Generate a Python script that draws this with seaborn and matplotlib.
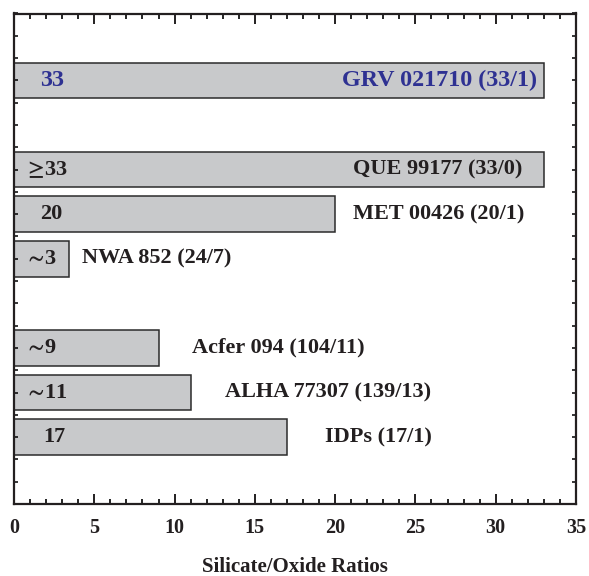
import numpy as np
import pandas as pd
import matplotlib
matplotlib.use("Agg")
import matplotlib.pyplot as plt
import seaborn as sns

# ---- data ----
samples = ["GRV 021710", "QUE 99177", "MET 00426", "NWA 852",
           "Acfer 094", "ALHA 77307", "IDPs"]
ratios = [33.0, 33.0, 20.0, 3.43, 9.05, 11.0, 17.0]
value_labels = ["33", r"${\geq}\!$33", "20", r"${\sim}\!$3", r"${\sim}\!$9",
                r"${\sim}\!$11", "17"]
name_labels = ["GRV 021710 (33/1)", "QUE 99177 (33/0)", "MET 00426 (20/1)",
               "NWA 852 (24/7)", "Acfer 094 (104/11)", "ALHA 77307 (139/13)",
               "IDPs (17/1)"]
# category slots (blank slots make the gaps between groups)
slot_order = ["_gap0", "GRV 021710", "_gap1", "QUE 99177", "MET 00426", "NWA 852",
              "_gap2", "Acfer 094", "ALHA 77307", "IDPs", "_gap3"]
x_ticks_major = [0, 5, 10, 15, 20, 25, 30, 35]

# ---- layout / style ----
value_x = [1.62, 0.65, 1.62, 0.6, 0.6, 0.6, 1.8]
name_x = [32.6, 31.65, 21.1, 4.25, 11.1, 13.15, 26.0]
name_ha = ["right", "right", "left", "left", "left", "left", "right"]
text_colors = ["#2e3192"] + ["#231f20"] * 6
text_sizes = [17.4] + [16] * 6

df = pd.DataFrame({"sample": samples, "ratio": ratios})

plt.rcParams["font.family"] = ["Liberation Serif", "DejaVu Serif"]
plt.rcParams["font.weight"] = "bold"
plt.rcParams["mathtext.fontset"] = "stix"

fig = plt.figure(figsize=(5.89, 5.76), dpi=100)
ax = fig.add_axes([14 / 589, 72 / 576, 562 / 589, 490.5 / 576])

sns.barplot(data=df, x="ratio", y="sample", order=slot_order, orient="h",
            color="#c8c9cb", saturation=1, edgecolor="#2b2b2b", linewidth=1.1,
            width=0.8, ax=ax)

ax.set_xlim(0, 35)
ax.set_ylim(len(slot_order) - 0.5, -0.5)

ax.set_xticks(x_ticks_major)
ax.set_xticklabels([str(t) for t in x_ticks_major], fontsize=14.5, fontweight="bold")
ax.set_xticks(np.arange(0, 35.01, 1), minor=True)
ax.set_yticks(np.arange(-0.5, len(slot_order) - 0.49, 0.5))
ax.set_yticklabels([])
ax.tick_params(axis="x", which="major", direction="in", length=7, width=1.4,
               top=True, bottom=True, pad=10, colors="#231f20")
ax.tick_params(axis="x", which="minor", direction="in", length=3.5, width=1.2,
               top=True, bottom=True)
ax.tick_params(axis="y", which="major", direction="in", length=3, width=1.1,
               left=True, right=True)
ax.set_ylabel("")
ax.set_xlabel("Silicate/Oxide Ratios", fontsize=15, fontweight="bold",
              labelpad=14, color="#231f20")
for sp in ax.spines.values():
    sp.set_visible(True)
    sp.set_linewidth(1.6)
    sp.set_color("#231f20")

for i, s in enumerate(samples):
    ypos = slot_order.index(s)
    ax.text(value_x[i], ypos, value_labels[i], ha="left", va="center",
            fontsize=text_sizes[i], fontweight="bold", color=text_colors[i])
    ax.text(name_x[i], ypos, name_labels[i],
            ha=name_ha[i], va="center", fontsize=text_sizes[i], fontweight="bold",
            color=text_colors[i])

fig.savefig("out.png", dpi=100)
